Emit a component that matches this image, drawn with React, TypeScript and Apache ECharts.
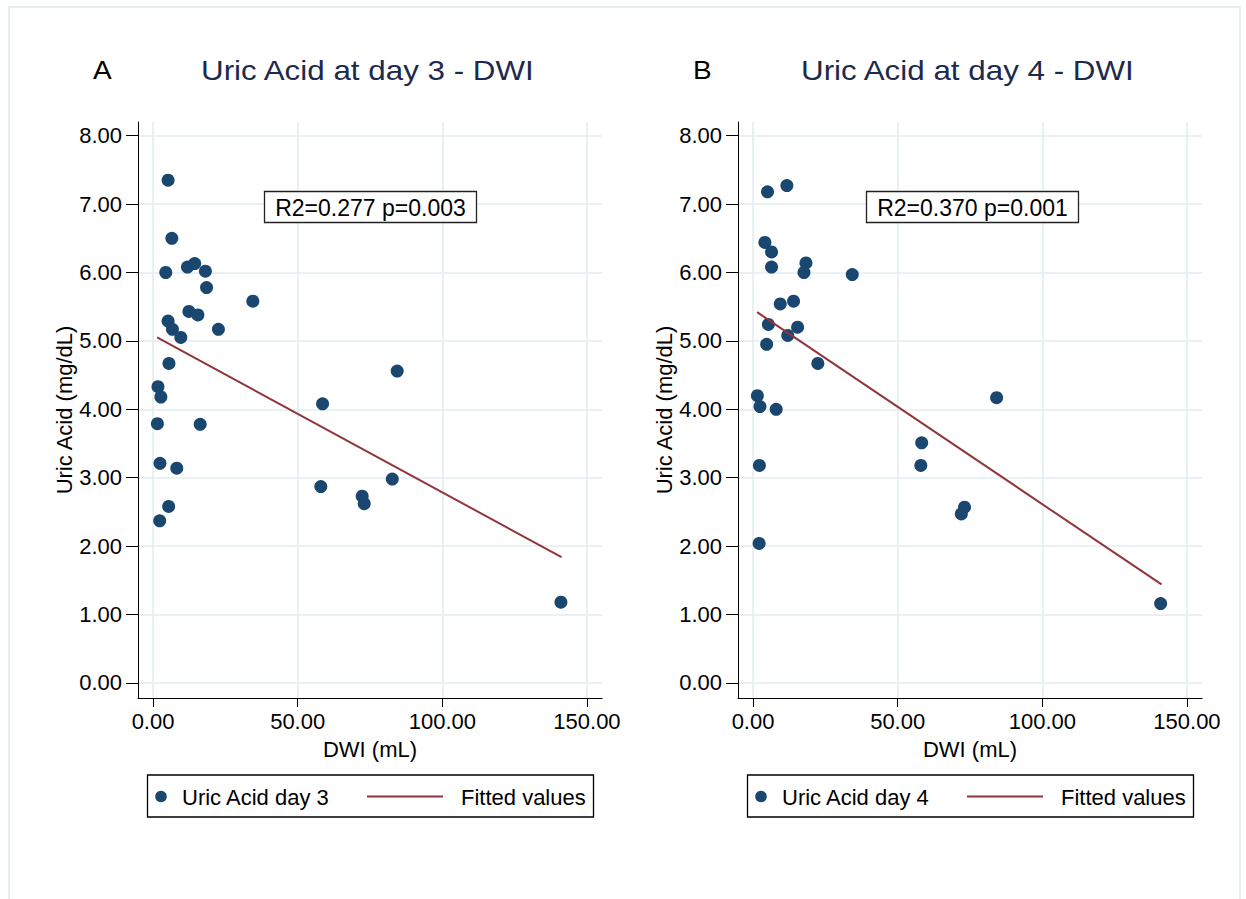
import React, { useEffect, useRef } from "react";
import * as echarts from "echarts";

// ---- data ----
const dwiDay3 = [5.2, 6.5, 4.4, 11.9, 14.4, 18.1, 18.5, 34.5, 12.4, 15.5, 5.2, 6.7, 9.6, 22.6, 5.5, 84.4, 1.7, 2.7, 58.6, 1.5, 16.3, 2.4, 8.2, 58.0, 72.3, 73.0, 82.7, 5.4, 2.3, 141.0];
const uaDay3 = [7.35, 6.5, 6.0, 6.08, 6.13, 6.02, 5.78, 5.58, 5.43, 5.38, 5.29, 5.17, 5.05, 5.17, 4.67, 4.56, 4.33, 4.18, 4.08, 3.79, 3.78, 3.21, 3.14, 2.87, 2.73, 2.62, 2.98, 2.58, 2.37, 1.18];
const dwiDay4 = [5.0, 11.7, 4.1, 6.4, 6.4, 18.3, 17.6, 34.3, 9.4, 14.0, 5.3, 15.4, 12.0, 4.7, 22.4, 84.2, 1.5, 2.4, 8.0, 58.3, 58.0, 2.2, 73.1, 72.0, 2.1, 140.9];
const uaDay4 = [7.18, 7.27, 6.44, 6.3, 6.08, 6.14, 6.0, 5.97, 5.54, 5.58, 5.24, 5.2, 5.08, 4.95, 4.67, 4.17, 4.2, 4.04, 4.0, 3.51, 3.18, 3.18, 2.57, 2.47, 2.04, 1.16];
const fitDay3X = [1.4, 141.2];
const fitDay3Y = [5.05, 1.84];
const fitDay4X = [1.4, 141.2];
const fitDay4Y = [5.42, 1.44];
const xTicks = [0, 50, 100, 150];
const yTicks = [0, 1, 2, 3, 4, 5, 6, 7, 8];
const panelLetters = ["A", "B"];
const panelTitles = ["Uric Acid at day 3 - DWI", "Uric Acid at day 4 - DWI"];
const statLabels = ["R2=0.277 p=0.003", "R2=0.370 p=0.001"];
const scatterNames = ["Uric Acid day 3", "Uric Acid day 4"];
const fitName = "Fitted values";
const xName = "DWI (mL)";
const yName = "Uric Acid (mg/dL)";

const FONT = "'Liberation Sans', Arial, Helvetica, sans-serif";
const NAVY = "#1a476f";
const MAROON = "#90353b";
const GRIDC = "#e2edf1";

export default function App() {
  const ref = useRef<HTMLDivElement>(null);
  useEffect(() => {
    if (!ref.current) return;
    const chart = echarts.init(ref.current, null, { renderer: "svg" });
    const panels = [
      { xs: dwiDay3, ys: uaDay3, fx: fitDay3X, fy: fitDay3Y },
      { xs: dwiDay4, ys: uaDay4, fx: fitDay4X, fy: fitDay4Y },
    ];
    const off = 600;
    const grids = panels.map((_, i) => ({ left: 138 + off * i, top: 122, width: 464, height: 576 }));
    const xAxes = panels.map((_, i) => ({
      gridIndex: i,
      type: "value",
      min: -5.2,
      max: 155.2,
      name: xName,
      nameLocation: "middle",
      nameGap: 40,
      nameTextStyle: { fontSize: 22, color: "#000", fontFamily: FONT },
      axisLine: { show: true, onZero: false, lineStyle: { color: "#000", width: 1 } },
      axisTick: { show: true, customValues: xTicks, length: 9, lineStyle: { color: "#000", width: 1 } },
      axisLabel: { customValues: xTicks, formatter: (v: number) => v.toFixed(2), fontSize: 22, color: "#000", margin: 12, fontFamily: FONT },
      splitLine: { show: true, lineStyle: { color: GRIDC, width: 1.6 } },
    }));
    const yAxes = panels.map((_, i) => ({
      gridIndex: i,
      type: "value",
      min: -0.22,
      max: 8.2,
      name: yName,
      nameLocation: "middle",
      nameGap: 62,
      nameTextStyle: { fontSize: 22, color: "#000", fontFamily: FONT },
      axisLine: { show: true, onZero: false, lineStyle: { color: "#000", width: 1 } },
      axisTick: { show: true, customValues: yTicks, length: 12, lineStyle: { color: "#000", width: 1 } },
      axisLabel: { customValues: yTicks, formatter: (v: number) => v.toFixed(2), fontSize: 22, color: "#000", margin: 16, fontFamily: FONT },
      splitLine: { show: true, lineStyle: { color: GRIDC, width: 1.6 } },
    }));
    const series: any[] = [];
    panels.forEach((p, i) => {
      series.push({
        type: "scatter",
        name: scatterNames[i],
        xAxisIndex: i,
        yAxisIndex: i,
        symbol: "circle",
        symbolSize: 13,
        itemStyle: { color: NAVY, opacity: 1 },
        data: p.xs.map((x, k) => [x, p.ys[k]]),
      });
      series.push({
        type: "line",
        name: fitName,
        xAxisIndex: i,
        yAxisIndex: i,
        showSymbol: false,
        symbol: "none",
        lineStyle: { color: MAROON, width: 2 },
        data: p.fx.map((x, k) => [x, p.fy[k]]),
      });
    });
    const graphic: any[] = [
      { type: "rect", shape: { x: 9, y: 7, width: 1231, height: 905 }, style: { fill: "none", stroke: "#e6eef1", lineWidth: 2 }, silent: true, z: -10 },
    ];
    panels.forEach((_, i) => {
      const dx = off * i;
      graphic.push({
        type: "text", x: 93 + dx, y: 71, scaleX: 1.12,
        style: { text: panelLetters[i], fontSize: 25, fill: "#000", fontFamily: FONT, align: "left", verticalAlign: "middle" },
      });
      graphic.push({
        type: "text", x: 201 + dx, y: 70, scaleX: 1.12,
        style: { text: panelTitles[i], fontSize: 28, fill: "#1c2a4e", fontFamily: FONT, align: "left", verticalAlign: "middle" },
      });
      graphic.push({
        type: "rect", shape: { x: 264.5 + dx + (i ? 2 : 0), y: 191.5, width: 212, height: 31 },
        style: { fill: "#fff", stroke: "#222", lineWidth: 1.3 }, z: 10,
      });
      graphic.push({
        type: "text", x: 370.5 + dx + (i ? 2 : 0), y: 207.5,
        style: { text: statLabels[i], fontSize: 23, fill: "#000", fontFamily: FONT, align: "center", verticalAlign: "middle" }, z: 11,
      });
      // legend
      graphic.push({
        type: "rect", shape: { x: 147.5 + dx, y: 775, width: 446, height: 42 },
        style: { fill: "#fff", stroke: "#000", lineWidth: 1.3 },
      });
      graphic.push({ type: "circle", shape: { cx: 161 + dx, cy: 796.5, r: 5.8 }, style: { fill: NAVY } });
      graphic.push({
        type: "text", x: 182 + dx, y: 797,
        style: { text: scatterNames[i], fontSize: 22, fill: "#000", fontFamily: FONT, align: "left", verticalAlign: "middle" },
      });
      graphic.push({ type: "line", shape: { x1: 367 + dx, y1: 796.5, x2: 443 + dx, y2: 796.5 }, style: { stroke: MAROON, lineWidth: 2 } });
      graphic.push({
        type: "text", x: 461 + dx, y: 797,
        style: { text: fitName, fontSize: 22, fill: "#000", fontFamily: FONT, align: "left", verticalAlign: "middle" },
      });
    });
    chart.setOption({
      animation: false,
      backgroundColor: "#fff",
      textStyle: { fontFamily: FONT },
      grid: grids,
      xAxis: xAxes,
      yAxis: yAxes,
      series,
      graphic,
    });
    return () => chart.dispose();
  }, []);
  return <div ref={ref} style={{ position: "fixed", left: 0, top: 0, width: 1246, height: 899 }} />;
}
